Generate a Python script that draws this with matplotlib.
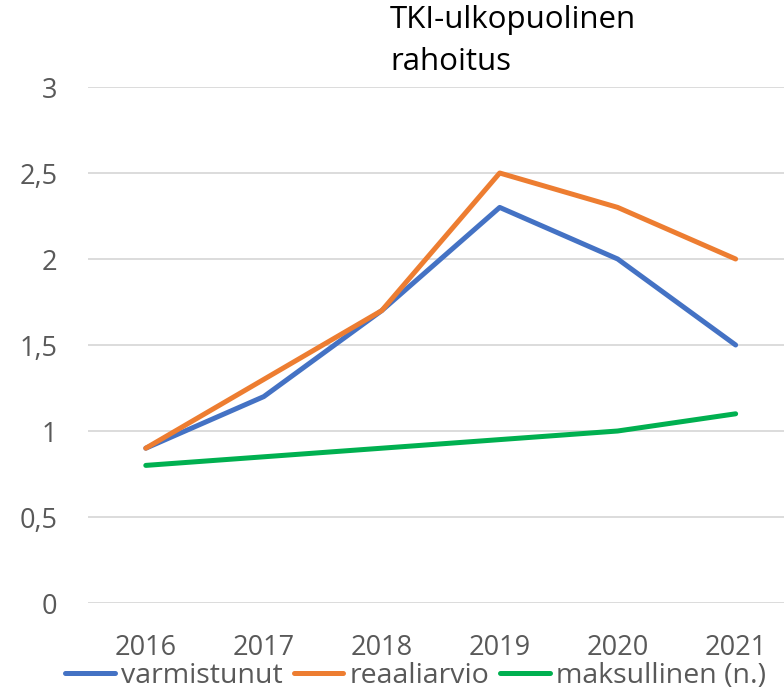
import numpy as np
import matplotlib.pyplot as plt

plt.rcParams['font.family'] = ['Open Sans', 'DejaVu Sans']

years = ['2016', '2017', '2018', '2019', '2020', '2021']
varmistunut = [0.9, 1.2, 1.7, 2.3, 2.0, 1.5]
reaaliarvio = [0.9, 1.3, 1.7, 2.5, 2.3, 2.0]
maksullinen = [0.8, 0.85, 0.9, 0.95, 1.0, 1.1]
yticks = [0, 0.5, 1, 1.5, 2, 2.5, 3]
ytick_labels = ['0', '0,5', '1', '1,5', '2', '2,5', '3']

fig = plt.figure(figsize=(7.84, 6.89), dpi=100)
ax = fig.add_axes([88/784, 1-603/689, 1-88/784, (603-87)/689])

x = np.arange(len(years))
ax.plot(x, varmistunut, color='#4472C4', lw=3.6, label='varmistunut', solid_capstyle='round')
ax.plot(x, reaaliarvio, color='#ED7D31', lw=3.6, label='reaaliarvio', solid_capstyle='round')
ax.plot(x, maksullinen, color='#00B050', lw=3.6, label='maksullinen (n.)', solid_capstyle='round')

ax.set_xlim(-0.49, 5.41)
ax.set_ylim(0, 3)
ax.set_yticks(yticks)
ax.set_yticklabels(ytick_labels)
ax.set_xticks(x)
ax.set_xticklabels(years)
ax.tick_params(axis='both', length=0, labelsize=19.5, colors='#595959')
ax.tick_params(axis='y', pad=22)
ax.tick_params(axis='x', pad=22)
ax.grid(axis='y', color='#D9D9D9', lw=1.3)
ax.set_axisbelow(True)
for s in ax.spines.values():
    s.set_visible(False)

fig.text(390/784, 1-5/689, 'TKI-ulkopuolinen\nrahoitus', fontsize=22.5, color='black',
         va='top', ha='left', linespacing=1.5)

leg = fig.legend(loc='lower left', bbox_to_anchor=(65/784, -0.002), ncol=3, frameon=False,
                 fontsize=20.5, handlelength=1.75, handletextpad=0.2, columnspacing=0.4,
                 borderpad=0, borderaxespad=0, labelcolor='#595959')
for h in leg.legend_handles:
    h.set_solid_capstyle('round')

fig.savefig('out.png', dpi=100)
